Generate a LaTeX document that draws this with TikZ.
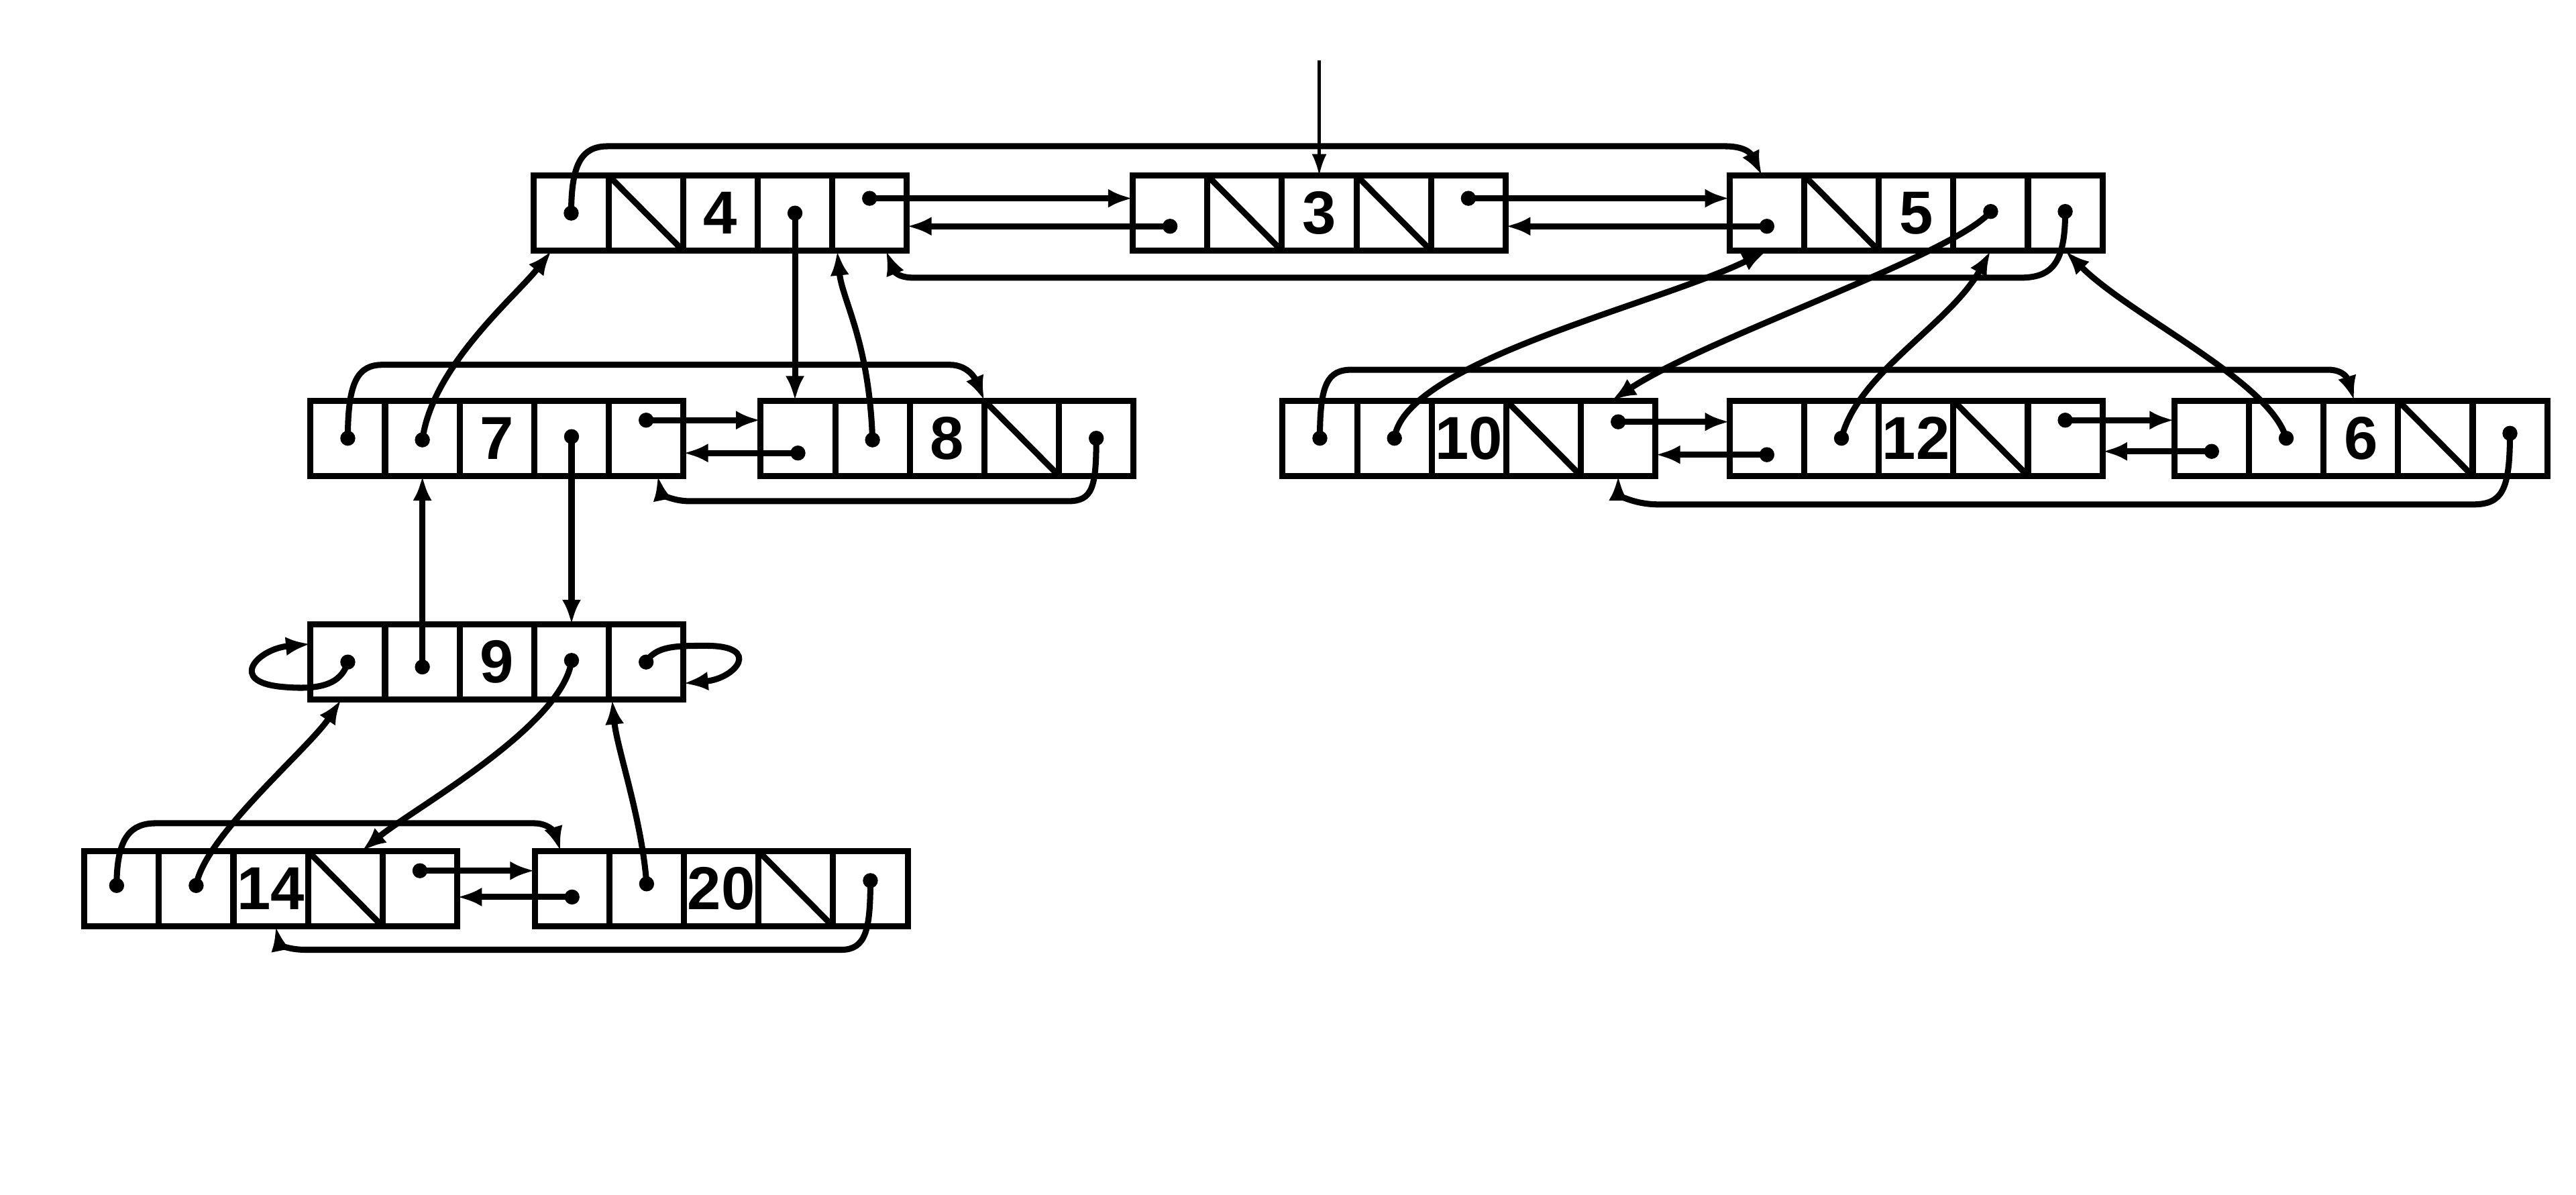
\documentclass[tikz,border=0pt]{standalone}
\usepackage{fontspec}
\setmainfont{Liberation Sans}
\usetikzlibrary{arrows.meta,calc}
\newcommand\record[4]{%
  \foreach \i in {1,2,4,5}
    \node[cell] (#1-\i) at ({#2+(\i-0.5)*45.4},{#3+22.9}) {};
  \node[cell,keyfont] (#1-3) at ({#2+2.5*45.4},{#3+22.9}) {#4};
}
\begin{document}
\begin{tikzpicture}[x=0.01cm,y=-0.01cm,
  cell/.style={draw,line width=1.05pt,rectangle,inner sep=0pt,outer sep=0pt,
    minimum width=0.454cm,minimum height=0.458cm},
  keyfont/.style={font=\fontsize{10.5}{12}\selectfont\bfseries},
  cellline/.style={line width=1.05pt},
  link/.style={line width=1.05pt},
  arr/.style={link,-{Latex[length=1.5mm,width=1.15mm]}},
  thinarr/.style={line width=0.5pt,-{Latex[length=1.3mm,width=0.9mm]}}]
\useasboundingbox (0,0) rectangle (1568,727);

% records: left, parent, key, child, right
\record{n4}{325}{106.8}{4}
\record{n3}{689.5}{106.8}{3}
\record{n5}{1052.8}{106.8}{5}
\record{n7}{189}{243.8}{7}
\record{n8}{463}{243.8}{8}
\record{n10}{780.7}{243.8}{10}
\record{n12}{1052.8}{243.8}{12}
\record{n6}{1323.5}{243.8}{6}
\record{n9}{189}{380}{9}
\record{n14}{51.3}{518}{14}
\record{n20}{325.5}{518}{20}

% nil fields
\foreach \c in {n4-2,n3-2,n3-4,n5-2,n8-4,n10-4,n12-4,n6-4,n14-4,n20-4}
  \draw[cellline] (\c.north west) -- (\c.south east);

% pointer origins
\coordinate (n4-L) at (n4-1);
\coordinate (n4-C) at (n4-4);
\coordinate (n4-R) at ($(n4-5)+(0,-9)$);
\coordinate (n3-L) at ($(n3-1)+(0,8)$);
\coordinate (n3-R) at ($(n3-5)+(0,-9)$);
\coordinate (n5-L) at ($(n5-1)+(0,8)$);
\coordinate (n5-C) at ($(n5-4)+(0,-1)$);
\coordinate (n5-R) at ($(n5-5)+(0,-1)$);
\coordinate (n7-L) at (n7-1);
\coordinate (n7-P) at ($(n7-2)+(0,1)$);
\coordinate (n7-C) at ($(n7-4)+(0,-1)$);
\coordinate (n7-R) at ($(n7-5)+(0,-11)$);
\coordinate (n8-L) at ($(n8-1)+(0,9)$);
\coordinate (n8-P) at ($(n8-2)+(0,1)$);
\coordinate (n8-R) at (n8-5);
\coordinate (n10-L) at (n10-1);
\coordinate (n10-P) at (n10-2);
\coordinate (n10-R) at ($(n10-5)+(0,-10)$);
\coordinate (n12-L) at ($(n12-1)+(0,10)$);
\coordinate (n12-P) at (n12-2);
\coordinate (n12-R) at ($(n12-5)+(0,-11)$);
\coordinate (n6-L) at ($(n6-1)+(0,8)$);
\coordinate (n6-P) at (n6-2);
\coordinate (n6-R) at ($(n6-5)+(0,-3)$);
\coordinate (n9-L) at (n9-1);
\coordinate (n9-P) at ($(n9-2)+(0,3)$);
\coordinate (n9-C) at ($(n9-4)+(0,-1)$);
\coordinate (n9-R) at (n9-5);
\coordinate (n14-L) at ($(n14-1)+(-3,-2)$);
\coordinate (n14-P) at ($(n14-2)+(0,-2)$);
\coordinate (n14-R) at ($(n14-5)+(0,-11)$);
\coordinate (n20-L) at ($(n20-1)+(0,5)$);
\coordinate (n20-P) at ($(n20-2)+(0,-3)$);
\coordinate (n20-R) at ($(n20-5)+(0,-5)$);

\foreach \d in {n4-L,n4-C,n4-R,n3-L,n3-R,n5-L,n5-C,n5-R,
  n7-L,n7-P,n7-C,n7-R,n8-L,n8-P,n8-R,n10-L,n10-P,n10-R,
  n12-L,n12-P,n12-R,n6-L,n6-P,n6-R,n9-L,n9-P,n9-C,n9-R,
  n14-L,n14-P,n14-R,n20-L,n20-P,n20-R}
  \fill (\d) circle (1.3pt);

% min pointer
\coordinate (minptr) at ($(n3-3.north)+(0,-70)$);
\draw[thinarr] (minptr) -- (n3-3.north);

% root list 4 <-> 3 <-> 5
\draw[arr] (n4-R) -- (n4-R -| n3-1.west);
\draw[arr] (n3-L) -- (n3-L -| n4-5.east);
\draw[arr] (n3-R) -- (n3-R -| n5-1.west);
\draw[arr] (n5-L) -- (n5-L -| n3-5.east);
\draw[arr] (n4-L) .. controls +(0,-30) and +(-16,0) .. (370,89) -- (1050,89)
  .. controls +(14,0) and +(-6,-12) .. ($(n5-1.north)+(-3,0)$);
\draw[arr] (n5-R) .. controls +(0,30) and +(20,0) .. (1230,169) -- (556,169)
  .. controls +(-12,0) and +(4,10) .. ($(n4-5.south)+(10,0)$);

% children of 4: 7, 8
\draw[arr] (n4-C) -- (n4-C |- n8-1.north);
\draw[arr] (n8-P) .. controls +(-2,-60) and +(3,30) .. ($(n4-4.south east)+(3,0)$);
\draw[arr] (n7-P) .. controls +(6,-45) and +(-22,28) .. ($(n4-1.south)+(-12,0)$);
\draw[arr] (n7-R) -- (n7-R -| n8-1.west);
\draw[arr] (n8-L) -- (n8-L -| n7-5.east);
\draw[arr] (n7-L) .. controls +(0,-35) and +(-15,0) .. (233,222) -- (578,222)
  .. controls +(12,0) and +(-5,-12) .. (n8-4.north west);
\draw[arr] (n8-R) .. controls +(0,30) and +(15,0) .. (650,305) -- (420,305)
  .. controls +(-12,0) and +(2,10) .. ($(n7-5.south)+(7,0)$);

% child of 7: 9
\draw[arr] (n7-C) -- (n7-C |- n9-4.north);
\draw[arr] (n9-P) -- (n9-P |- n7-2.south);
\draw[arr] (n9-L) .. controls +(-4,14) and +(22,2) .. (172,418)
  .. controls +(-34,-3) and +(-32,3) .. ($(n9-1.west)+(0,-11)$);
\draw[arr] (n9-R) .. controls +(6,-10) and +(-18,0) .. (430,393)
  .. controls +(34,0) and +(32,-3) .. ($(n9-5.east)+(0,13)$);

% children of 9: 14, 20
\draw[arr] (n9-C) .. controls +(-5,40) and +(30,-25) .. ($(n14-4.north)+(10,0)$);
\draw[arr] (n14-P) .. controls +(5,-30) and +(-20,30) .. ($(n9-1.south)+(-4,0)$);
\draw[arr] (n20-P) .. controls +(-3,-40) and +(3,30) .. ($(n9-5.south west)+(2,0)$);
\draw[arr] (n14-R) -- (n14-R -| n20-1.west);
\draw[arr] (n20-L) -- (n20-L -| n14-5.east);
\draw[arr] (n14-L) .. controls +(0,-30) and +(-15,0) .. (95,501) -- (325,501)
  .. controls +(10,0) and +(-3,-10) .. ($(n20-1.north)+(-7,0)$);
\draw[arr] (n20-R) .. controls +(0,30) and +(15,0) .. (512,578) -- (186,578)
  .. controls +(-12,0) and +(2,10) .. ($(n14-3.south)+(3,0)$);

% children of 5: 10, 12, 6
\draw[arr] (n5-C) .. controls (1190,155) and (1040,205) .. ($(n10-5.north)+(-4,0)$);
\draw[arr] (n10-P) .. controls (855,220) and (1010,185) .. (n5-1.south);
\draw[arr] (n12-P) .. controls +(10,-40) and +(-25,45) .. (n5-4.south);
\draw[arr] (n6-P) .. controls +(-10,-35) and +(40,40) .. (n5-5.south);
\draw[arr] (n10-R) -- (n10-R -| n12-1.west);
\draw[arr] (n12-L) -- (n12-L -| n10-5.east);
\draw[arr] (n12-R) -- (n12-R -| n6-1.west);
\draw[arr] (n6-L) -- (n6-L -| n12-5.east);
\draw[arr] (n10-L) .. controls +(0,-33) and +(-15,0) .. (823,225) -- (1417,225)
  .. controls +(12,0) and +(-3,-10) .. ($(n6-3.north)+(-4,0)$);
\draw[arr] (n6-R) .. controls +(0,35) and +(18,0) .. (1505,307) -- (1010,307)
  .. controls +(-18,0) and +(0,10) .. (n10-5.south);
\end{tikzpicture}
\end{document}
